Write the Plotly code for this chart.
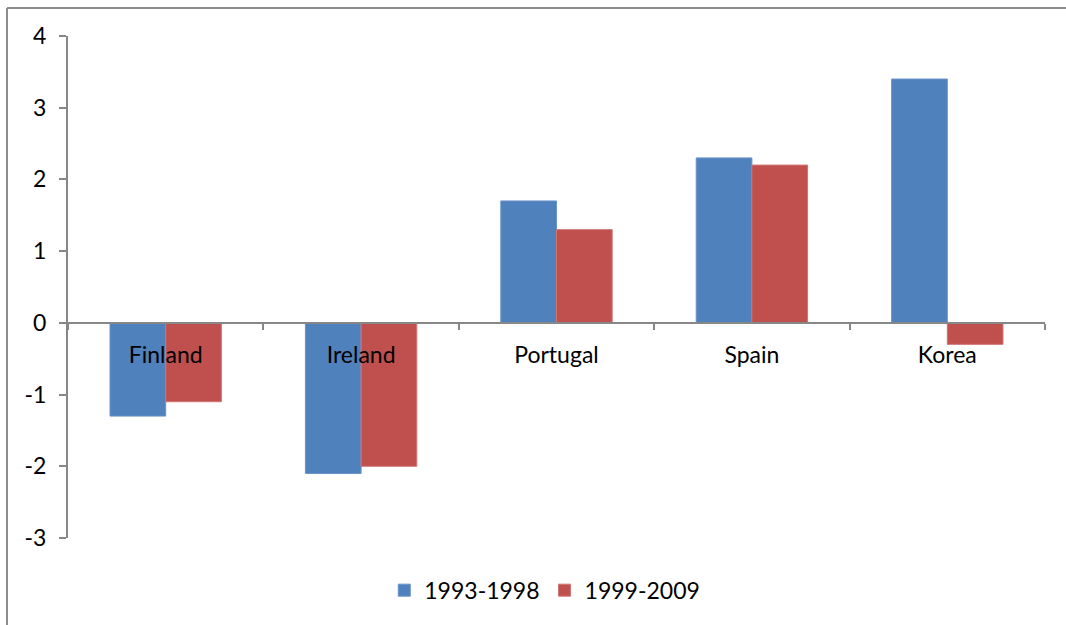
import plotly.graph_objects as go

countries = ["Finland", "Ireland", "Portugal", "Spain", "Korea"]
period_1993_1998 = [-1.3, -2.1, 1.7, 2.3, 3.4]
period_1999_2009 = [-1.1, -2.0, 1.3, 2.2, -0.3]
y_ticks = [-3, -2, -1, 0, 1, 2, 3, 4]

y_min, y_max = -3, 4
axis_grey = "#878787"
font_family = "Lato, 'Open Sans', sans-serif"
label_size = 23

fig = go.Figure()
fig.add_trace(go.Bar(
    x=countries, y=period_1993_1998, name="1993-1998",
    marker=dict(color="#4F81BD", line=dict(color="#6A93C8", width=1)),
))
fig.add_trace(go.Bar(
    x=countries, y=period_1999_2009, name="1999-2009",
    marker=dict(color="#C0504D", line=dict(color="#D07573", width=1)),
))

# zero position as a fraction of the plotting height, so the category axis sits on y = 0
zero_frac = (0 - y_min) / (y_max - y_min)

fig.update_layout(
    width=1066, height=625,
    margin=dict(l=68, r=21, t=36, b=87),
    paper_bgcolor="white", plot_bgcolor="white",
    barmode="group", bargap=0.43, bargroupgap=0,
    font=dict(family=font_family, size=label_size, color="black"),
    showlegend=True,
    legend=dict(
        orientation="h", x=0.488, xanchor="center", y=-0.104, yanchor="middle",
        font=dict(size=label_size), itemwidth=30, tracegroupgap=0,
    ),
    xaxis=dict(
        type="category", anchor="free", position=zero_frac,
        showline=True, linecolor=axis_grey, linewidth=2,
        ticks="outside", ticklen=6, tickwidth=2, tickcolor=axis_grey,
        tickson="boundaries", showgrid=False, zeroline=False,
        tickfont=dict(size=label_size), ticklabelstandoff=12,
    ),
    yaxis=dict(
        range=[y_min, y_max], tickvals=y_ticks, ticktext=[str(v) for v in y_ticks],
        showline=True, linecolor=axis_grey, linewidth=2,
        ticks="outside", ticklen=7, tickwidth=2, tickcolor=axis_grey,
        showgrid=False, zeroline=False, tickfont=dict(size=label_size),
        ticklabelstandoff=8,
    ),
)

# outer chart frame (top and left edges are visible within the canvas)
fig.add_shape(type="line", xref="paper", yref="paper",
              x0=-61 / 977, x1=1.1, y0=1 + 28 / 502, y1=1 + 28 / 502,
              line=dict(color="#8C8C8C", width=2))
fig.add_shape(type="line", xref="paper", yref="paper",
              x0=-61 / 977, x1=-61 / 977, y0=1 + 28 / 502, y1=-0.3,
              line=dict(color="#8C8C8C", width=2))

fig.write_html("out.html")
